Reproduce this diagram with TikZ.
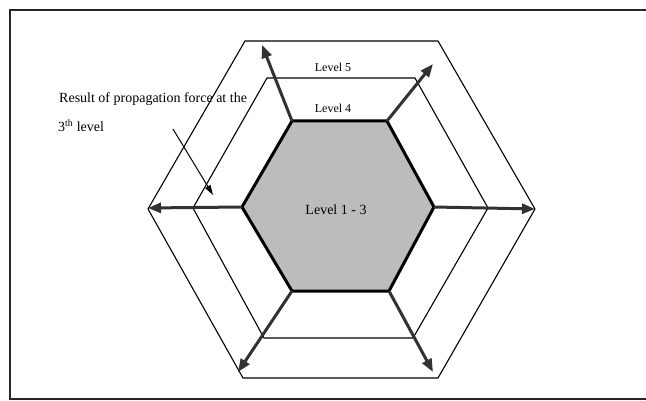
\documentclass[tikz,border=0pt]{standalone}
\usepackage{fontspec}
\setmainfont{Liberation Serif}
\usetikzlibrary{arrows.meta}
\definecolor{hexfill}{RGB}{188,188,188}
\definecolor{arrowgray}{RGB}{50,50,50}
\begin{document}
\begin{tikzpicture}[x=1pt,y=-1pt,
  hexthin/.style={line width=1.1pt,black},
  hexcore/.style={line width=3pt,black,fill=hexfill,line join=miter},
  force/.style={line width=3pt,arrowgray,-{Triangle[length=13pt,width=10pt]}},
  callout/.style={line width=1pt,black,-{Triangle[length=10pt,width=6pt]}},
  lbl/.style={font=\fontsize{12}{14}\selectfont,inner sep=0pt},
  note/.style={font=\fontsize{14}{16}\selectfont,inner sep=0pt,anchor=base west}]
\useasboundingbox (0,0) rectangle (646,401);
\fill[white] (0,0) rectangle (646,401);
% frame
\draw[line width=1.3pt,black!85] (646,10) -- (10,10) -- (10,399) -- (646,399);
% outer hexagon
\coordinate (o1) at (148,209);
\coordinate (o2) at (245,41);
\coordinate (o3) at (438,41);
\coordinate (o4) at (535,209);
\coordinate (o5) at (438,378);
\coordinate (o6) at (243,378);
\draw[hexthin] (o1)--(o2)--(o3)--(o4)--(o5)--(o6)--cycle;
% middle hexagon
\coordinate (m1) at (193,208);
\coordinate (m2) at (267,78);
\coordinate (m3) at (415,78);
\coordinate (m4) at (488,208);
\coordinate (m5) at (413,338);
\coordinate (m6) at (264,338);
\draw[hexthin] (m1)--(m2)--(m3)--(m4)--(m5)--(m6)--cycle;
% inner hexagon
\coordinate (i1) at (242,207);
\coordinate (i2) at (292,121);
\coordinate (i3) at (387,121);
\coordinate (i4) at (434,207);
\coordinate (i5) at (389,291);
\coordinate (i6) at (292,291);
\draw[hexcore] (i1)--(i2)--(i3)--(i4)--(i5)--(i6)--cycle;
% arrow tips
\coordinate (tNW) at (262,45);
\coordinate (tNE) at (433,64);
\coordinate (tE) at (535,209);
\coordinate (tW) at (148,208);
\coordinate (tSW) at (238,372);
\coordinate (tSE) at (433,372);
\draw[force] (i2) -- (tNW);
\draw[force] (i3) -- (tNE);
\draw[force] (i4) -- (tE);
\draw[force] (i1) -- (tW);
\draw[force] (i6) -- (tSW);
\draw[force] (i5) -- (tSE);
% labels
\node[lbl] (l5) at (333,67) {Level 5};
\node[lbl] (l4) at (333,108) {Level 4};
\node[lbl,font=\fontsize{14}{16}\selectfont] (l13) at (336,210) {Level 1 - 3};
\node[note] (n1) at (59,103) {Result of propagation force at the};
\node[note] (n2) at (58,132) {3\textsuperscript{th} level};
\coordinate (cs) at (173,129);
\coordinate (ce) at (213,195);
\draw[callout] (cs) -- (ce);
\end{tikzpicture}
\end{document}
